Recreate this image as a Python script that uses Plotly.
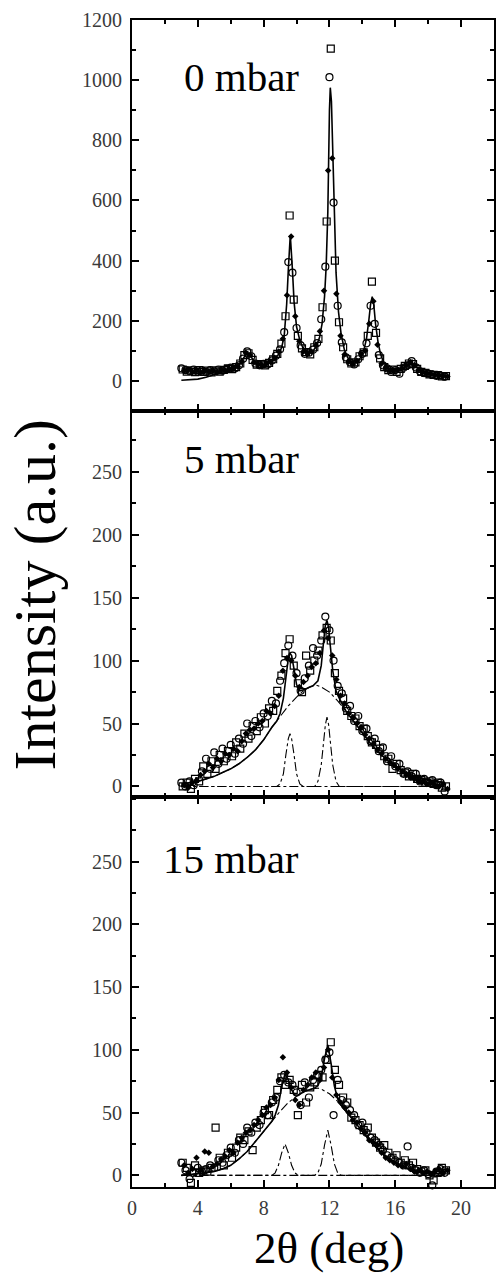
import plotly.graph_objects as go

# ---------------- 2θ sampling of the three scans (deg) ----------------
STEP = 0.25
N_PTS = 65
X0_CIRC, X0_SQ, X0_FILL = 3.00, 3.08, 3.17


def scan_grid(x0):
    return [round(x0 + STEP * i, 2) for i in range(N_PTS)]


# ---------------- 0 mbar ----------------
TOP_CIRC = [42, 36, 33, 38, 31, 35, 29, 36, 32, 38, 34, 40, 44, 41, 52, 74, 98, 82, 58, 52,
            57, 55, 68, 84, 105, 162, 395, 360, 176, 118, 90, 94, 104, 126, 205, 380, 1010, 593, 250, 128,
            78, 62, 55, 72, 90, 125, 250, 190, 86, 52, 42, 30, 36, 24, 44, 52, 66, 45, 32, 26,
            24, 21, 17, 18, 14]
TOP_SQ = [38, 31, 35, 29, 36, 30, 34, 28, 35, 31, 37, 42, 39, 46, 58, 86, 92, 70, 54, 56,
          52, 60, 72, 90, 124, 215, 550, 270, 150, 108, 96, 88, 112, 140, 245, 530, 1105, 400, 195, 112,
          72, 58, 62, 82, 95, 150, 330, 160, 75, 46, 36, 38, 30, 40, 50, 58, 56, 40, 30, 27,
          22, 20, 19, 15, 16]
TOP_FILL = [34, 37, 30, 34, 28, 33, 31, 34, 29, 36, 35, 40, 43, 48, 64, 94, 86, 62, 55, 50,
            58, 63, 76, 98, 140, 285, 480, 215, 132, 98, 92, 97, 118, 165, 300, 700, 740, 290, 150, 88,
            64, 56, 66, 90, 100, 190, 265, 120, 58, 44, 34, 35, 37, 42, 53, 62, 52, 37, 29, 25,
            23, 20, 18, 16, 15]
TOP_FIT_X = [3.0, 3.5, 4.0, 4.5, 5.0, 5.5, 6.0, 6.3, 6.6, 6.8, 7.0, 7.2, 7.4, 7.7, 8.0, 8.3, 8.6, 8.9,
             9.1, 9.25, 9.4, 9.5, 9.62, 9.75, 9.85, 10.0, 10.2, 10.4, 10.6, 10.8, 11.0, 11.2, 11.4,
             11.55, 11.7, 11.8, 11.9, 12.0, 12.05, 12.12, 12.2, 12.3, 12.4, 12.55, 12.7, 12.9, 13.1,
             13.3, 13.5, 13.7, 13.9, 14.1, 14.25, 14.4, 14.5, 14.6, 14.7, 14.8, 14.95, 15.1, 15.3,
             15.6, 15.9, 16.2, 16.5, 16.8, 17.0, 17.2, 17.5, 17.8, 18.2, 18.6, 19.0]
TOP_FIT_Y = [2, 3, 6, 12, 20, 30, 38, 44, 58, 78, 92, 84, 66, 55, 54, 58, 68, 88,
             112, 150, 255, 370, 485, 370, 262, 180, 135, 108, 95, 93, 100, 115, 145,
             190, 280, 380, 560, 900, 975, 930, 750, 520, 360, 230, 160, 105, 78,
             62, 58, 64, 78, 105, 140, 205, 255, 280, 250, 190, 130, 90, 60,
             42, 36, 36, 42, 54, 58, 52, 38, 29, 23, 19, 16]

# ---------------- 5 mbar ----------------
MID_CIRC = [3, 0, 4, 1, -14, 12, 22, 14, 27, 18, 30, 22, 33, 26, 38, 34, 50, 40, 52, 47,
            58, 56, 68, 66, 84, 98, 112, 104, 90, 76, 86, 96, 110, 104, 116, 135, 124, 100, 80, 74,
            62, 64, 52, 56, 44, 46, 36, 38, 28, 31, 20, 24, 16, 18, 10, 12, 8, 10, 4, 6,
            3, 5, 1, 3, -4]
MID_SQ = [0, 3, -2, 6, 4, 16, 10, 20, 14, 25, 20, 28, 24, 35, 30, 42, 38, 48, 44, 55,
          50, 62, 60, 76, 88, 106, 117, 96, 82, 75, 104, 92, 100, 108, 120, 126, 116, 90, 76, 70,
          60, 56, 54, 48, 46, 40, 35, 33, 30, 24, 22, 14, 18, 13, 11, 8, 10, 6, 5, 3,
          4, 2, 3, -1, 0]
MID_FILL = [1, -1, 3, 5, 9, 12, 18, 15, 22, 20, 26, 25, 30, 28, 36, 42, 45, 46, 50, 52,
            60, 58, 64, 72, 92, 102, 100, 88, 79, 83, 88, 95, 98, 106, 124, 118, 104, 85, 72, 66,
            58, 55, 50, 47, 41, 38, 34, 29, 26, 22, 19, 17, 14, 12, 9, 7, 6, 5, 4, 2,
            3, 1, 0, 2, -2]
MID_BROAD_X = [3.0, 3.5, 4.0, 4.5, 5.0, 5.5, 6.0, 6.5, 7.0, 7.5, 8.0, 8.5, 9.0, 9.5, 10.0, 10.5,
               11.0, 11.2, 11.5, 12.0, 12.5, 13.0, 13.5, 14.0, 14.5, 15.0, 15.5, 16.0, 16.5,
               17.0, 17.5, 18.0, 18.5, 19.0]
MID_BROAD_Y = [2, 3, 4, 6, 8, 11, 14, 18, 23, 29, 37, 47, 56, 64, 71, 77,
               80, 80.5, 79, 75, 68, 60, 51, 42, 34, 27, 21, 16, 12,
               9, 7, 5, 4, 3]
MID_PEAK1_X = [3.0, 8.8, 9.0, 9.2, 9.35, 9.5, 9.6, 9.7, 9.85, 10.0, 10.2, 10.4, 19.0]
MID_PEAK1_Y = [0, 0, 2, 10, 25, 38, 42, 38, 25, 10, 2, 0, 0]
MID_PEAK2_X = [3.0, 11.1, 11.3, 11.5, 11.65, 11.75, 11.85, 11.95, 12.05, 12.2, 12.4, 12.6, 19.0]
MID_PEAK2_Y = [0, 0, 4, 17, 36, 49, 55, 49, 36, 17, 4, 0, 0]
MID_FIT_X = [3.0, 3.5, 4.0, 4.5, 5.0, 5.5, 6.0, 6.5, 7.0, 7.5, 8.0, 8.5, 8.8, 9.0, 9.2, 9.35,
             9.5, 9.6, 9.7, 9.85, 10.0, 10.2, 10.5, 10.8, 11.0, 11.3, 11.5, 11.65, 11.75,
             11.85, 11.95, 12.05, 12.2, 12.4, 12.6, 13.0, 13.5, 14.0, 14.5, 15.0, 15.5, 16.0,
             16.5, 17.0, 17.5, 18.0, 18.5, 19.0]
MID_FIT_Y = [2, 3, 4, 6, 8, 11, 14, 18, 23, 29, 37, 47, 52, 58, 70, 86,
             102, 106, 104, 93, 81, 76, 77, 79, 80, 84, 96, 116, 128,
             132, 126, 112, 92, 76, 70, 60, 51, 42, 34, 27, 21, 16,
             12, 9, 7, 5, 4, 3]

# ---------------- 15 mbar ----------------
BOT_CIRC = [10, 4, -3, 2, 6, 3, 5, 8, 6, 12, 10, 16, 22, 18, 28, 25, 38, 34, 42, 40,
            50, 48, 58, 62, 75, 80, 74, 72, 66, 56, 74, 62, 76, 80, 84, 92, 98, 48, 76, 60,
            56, 52, 48, 40, 42, 34, 30, 28, 24, 20, 16, 14, 12, 10, 8, 23, 6, 4, 2, 4,
            1, -8, 3, 5, 2]
BOT_SQ = [10, 6, -6, 8, 2, 4, 3, 6, 38, 14, 8, 18, 14, 22, 30, 28, 35, 20, 38, 44,
          52, 48, 60, 68, 78, 72, 76, 68, 48, 72, 58, 70, 74, 80, 78, 92, 106, 84, 72, 62,
          58, 46, 44, 40, 36, 38, 30, 26, 22, 24, 18, 14, 16, 10, 12, 8, 10, 5, 3, 4,
          0, -4, 2, 6, 4]
BOT_FILL = [8, 2, 5, 14, 4, 19, 18, 7, 9, 13, 15, 20, 18, 26, 30, 34, 36, 40, 44, 48,
            54, 56, 62, 76, 94, 82, 70, 60, 56, 68, 72, 78, 82, 76, 86, 100, 78, 64, 58, 54,
            50, 44, 42, 37, 34, 28, 26, 24, 18, 14, 12, 10, 8, 7, 9, 5, 3, 4, 2, 3,
            1, 3, 5, 2, 4]
BOT_BROAD_X = [3.0, 4.0, 4.5, 5.0, 5.5, 6.0, 6.5, 7.0, 7.5, 8.0, 8.5, 9.0, 9.5, 10.0, 10.5,
               11.0, 11.3, 11.6, 12.0, 12.5, 13.0, 13.5, 14.0, 14.5, 15.0, 15.5, 16.0, 16.5,
               17.0, 17.5, 18.0, 19.0]
BOT_BROAD_Y = [0, 1, 2, 3, 5, 8, 13, 19, 27, 35, 43, 51, 58, 63, 67,
               69, 69.5, 68, 65, 59, 51, 43, 35, 27, 20, 14, 10, 7,
               4, 3, 2, 1]
BOT_PEAK1_X = [3.0, 8.5, 8.7, 8.9, 9.1, 9.3, 9.5, 9.7, 9.9, 10.1, 19.0]
BOT_PEAK1_Y = [0, 0, 2, 8, 18, 25, 18, 8, 2, 0, 0]
BOT_PEAK2_X = [3.0, 11.1, 11.3, 11.5, 11.7, 11.9, 12.1, 12.3, 12.5, 12.7, 19.0]
BOT_PEAK2_Y = [0, 0, 2, 9, 24, 36, 24, 9, 2, 0, 0]
BOT_FIT_X = [3.0, 4.0, 4.5, 5.0, 5.5, 6.0, 6.5, 7.0, 7.5, 8.0, 8.5, 8.7, 8.9, 9.1, 9.3, 9.5,
             9.7, 9.9, 10.1, 10.5, 11.0, 11.1, 11.3, 11.5, 11.7, 11.9, 12.1, 12.3, 12.5, 12.7,
             13.0, 13.5, 14.0, 14.5, 15.0, 15.5, 16.0, 16.5, 17.0, 17.5, 18.0, 19.0]
BOT_FIT_Y = [0, 1, 2, 3, 5, 8, 13, 19, 27, 35, 43, 48, 56, 71, 81, 76,
             68, 64, 64, 67, 69, 69.5, 71.5, 78, 93, 104, 89, 71, 61, 56,
             51, 43, 35, 27, 20, 14, 10, 7, 4, 3, 2, 1]

PANEL_LABELS = ["0 mbar", "5 mbar", "15 mbar"]
X_TICKS = [0, 4, 8, 12, 16, 20]

# ---------------- styling ----------------
SERIF = "Liberation Serif, Times New Roman, serif"
INK = "black"

fig = go.Figure()

panels = [
    dict(circ=TOP_CIRC, sq=TOP_SQ, fill=TOP_FILL, fit=(TOP_FIT_X, TOP_FIT_Y), comps=[]),
    dict(circ=MID_CIRC, sq=MID_SQ, fill=MID_FILL, fit=(MID_FIT_X, MID_FIT_Y),
         comps=[(MID_BROAD_X, MID_BROAD_Y), (MID_PEAK1_X, MID_PEAK1_Y), (MID_PEAK2_X, MID_PEAK2_Y)]),
    dict(circ=BOT_CIRC, sq=BOT_SQ, fill=BOT_FILL, fit=(BOT_FIT_X, BOT_FIT_Y),
         comps=[(BOT_BROAD_X, BOT_BROAD_Y), (BOT_PEAK1_X, BOT_PEAK1_Y), (BOT_PEAK2_X, BOT_PEAK2_Y)]),
]

for k, p in enumerate(panels):
    xa = "x" if k == 0 else f"x{k + 1}"
    ya = "y" if k == 0 else f"y{k + 1}"
    for cx, cy in p["comps"]:
        fig.add_trace(go.Scatter(x=cx, y=cy, mode="lines", xaxis=xa, yaxis=ya,
                                 line=dict(color=INK, width=1.1, dash="dashdot"),
                                 showlegend=False, hoverinfo="skip"))
    fig.add_trace(go.Scatter(x=p["fit"][0], y=p["fit"][1], mode="lines", xaxis=xa, yaxis=ya,
                             line=dict(color=INK, width=1.6), showlegend=False))
    fig.add_trace(go.Scatter(x=scan_grid(X0_CIRC), y=p["circ"], mode="markers", xaxis=xa, yaxis=ya,
                             marker=dict(symbol="circle-open", size=7, color=INK, line=dict(width=1.2)),
                             cliponaxis=False, showlegend=False))
    fig.add_trace(go.Scatter(x=scan_grid(X0_SQ), y=p["sq"], mode="markers", xaxis=xa, yaxis=ya,
                             marker=dict(symbol="square-open", size=7, color=INK, line=dict(width=1.2)),
                             cliponaxis=False, showlegend=False))
    fig.add_trace(go.Scatter(x=scan_grid(X0_FILL), y=p["fill"], mode="markers", xaxis=xa, yaxis=ya,
                             marker=dict(symbol="diamond", size=5, color=INK),
                             cliponaxis=False, showlegend=False))

# plot area: y from 20 px to 1187 px of the 1274 px page
TOP_PX, BOT_PX = 20, 1187
H = BOT_PX - TOP_PX


def dom(y_top_px, y_bot_px):
    return [(BOT_PX - y_bot_px) / H, (BOT_PX - y_top_px) / H]


domains = [dom(20, 411), dom(411, 797), dom(797, 1187)]
y_ranges = [[-100, 1200], [-8.4, 298.4], [-9.3, 301.4]]
y_major = [[0, 200, 400, 600, 800, 1000, 1200], [0, 50, 100, 150, 200, 250], [0, 50, 100, 150, 200, 250]]
y_minor = [[-100, 100, 300, 500, 700, 900, 1100],
           [25, 75, 125, 175, 225, 275],
           [25, 75, 125, 175, 225, 275, 300]]

tickfont = dict(family=SERIF, size=20, color="#3a3a3a")
axis_common = dict(showline=True, linecolor=INK, linewidth=2, mirror="ticks",
                   ticks="inside", tickcolor=INK, tickwidth=1.5, showgrid=False, zeroline=False)

layout = dict(width=497, height=1274, margin=dict(l=132, r=1, t=20, b=87),
              plot_bgcolor="white", paper_bgcolor="white", showlegend=False)

for k in range(3):
    xkey = "xaxis" if k == 0 else f"xaxis{k + 1}"
    ykey = "yaxis" if k == 0 else f"yaxis{k + 1}"
    yanchor = "y" if k == 0 else f"y{k + 1}"
    xanchor = "x" if k == 0 else f"x{k + 1}"
    layout[xkey] = dict(axis_common, range=[0, 22], anchor=yanchor, domain=[0, 1],
                        tickvals=X_TICKS, ticklen=7,
                        minor=dict(tickvals=[2, 6, 10, 14, 18], ticklen=4, ticks="inside",
                                   tickcolor=INK, tickwidth=1.5),
                        showticklabels=(k == 2), tickfont=tickfont, ticklabelstandoff=2)
    layout[ykey] = dict(axis_common, range=y_ranges[k], anchor=xanchor, domain=domains[k],
                        tickvals=y_major[k], ticklen=7,
                        minor=dict(tickvals=y_minor[k], ticklen=4, ticks="inside",
                                   tickcolor=INK, tickwidth=1.5),
                        tickfont=tickfont, ticklabelstandoff=4)

fig.update_layout(**layout)

# pressure labels, right-aligned at the same position in each panel
label_px_y = [77, 459, 859]
for text, py in zip(PANEL_LABELS, label_px_y):
    fig.add_annotation(text=text, xref="paper", yref="paper",
                       x=(302 - 132) / 364, y=(BOT_PX - py) / H,
                       xanchor="right", yanchor="middle", showarrow=False,
                       font=dict(family=SERIF, size=41, color=INK))

# axis titles
fig.add_annotation(text="Intensity (a.u.)", textangle=-90, xref="paper", yref="paper",
                   x=(34 - 132) / 364, y=(BOT_PX - 595) / H, xanchor="center", yanchor="middle",
                   showarrow=False, font=dict(family=SERIF, size=60, color=INK))
fig.add_annotation(text="2θ (deg)", xref="paper", yref="paper",
                   x=(330 - 132) / 364, y=(BOT_PX - 1274) / H, xanchor="center", yanchor="bottom",
                   showarrow=False, borderpad=0, font=dict(family=SERIF, size=45, color=INK))

fig.write_html("out.html")
